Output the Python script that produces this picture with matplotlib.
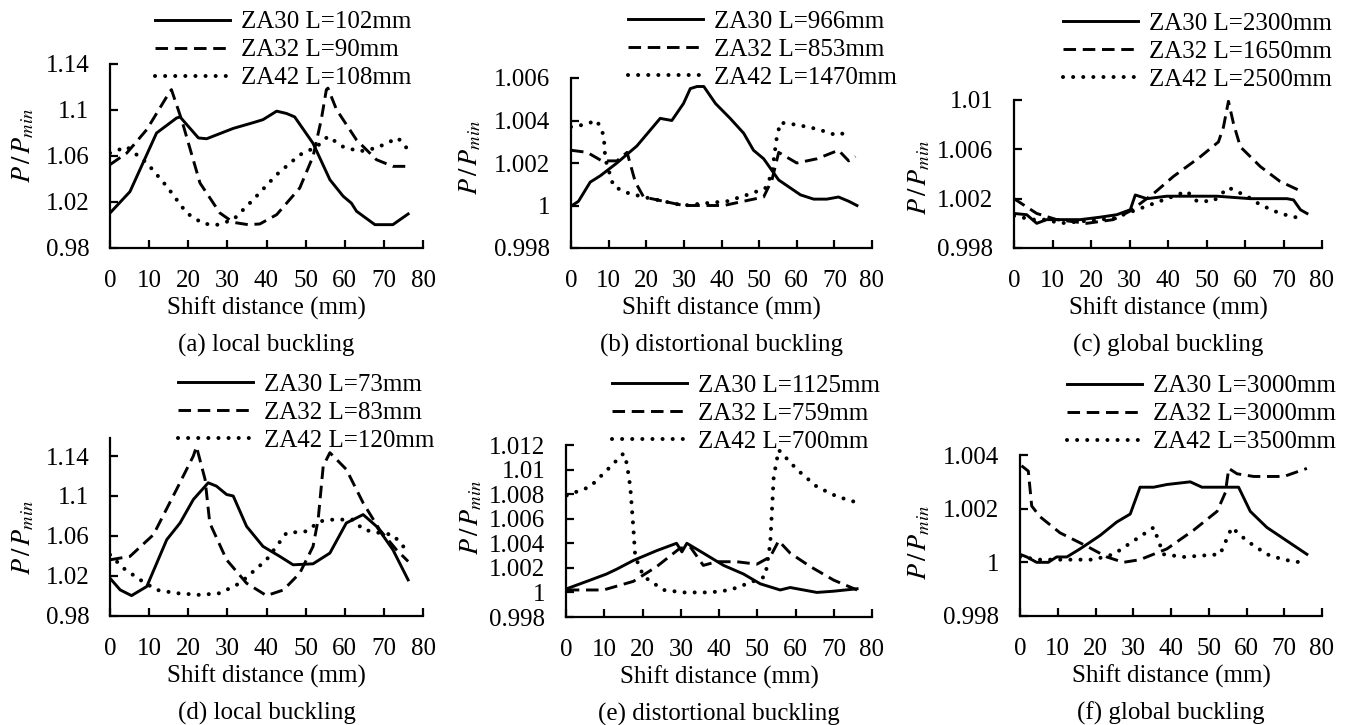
import matplotlib
matplotlib.use("Agg")
import matplotlib.pyplot as plt
from matplotlib.ticker import FuncFormatter

plt.rcParams["font.family"] = ["Liberation Serif", "DejaVu Serif"]
plt.rcParams["mathtext.fontset"] = "stix"

# ---- data (shift distance in mm, P/Pmin) ----
# (a) local buckling
a30_x = [0, 5.1, 11.9, 17, 17.9, 22.6, 24.7, 31.5, 36.6, 39.1, 42.6, 45.1, 47.2, 51.9, 56.2, 59.6, 61.7, 63, 67.7, 72.3, 76.2]
a30_y = [1.0104, 1.029, 1.080, 1.093, 1.094, 1.0757, 1.075, 1.084, 1.089, 1.0916, 1.099, 1.097, 1.094, 1.071, 1.0394, 1.025, 1.019, 1.012, 1.0003, 1.0003, 1.0096]
a32_x = [0, 4.3, 9.4, 15.3, 15.7, 18.3, 23, 28.1, 31.5, 35.3, 38.3, 42.6, 48.5, 51.9, 54, 55.3, 55.7, 57.9, 63, 68.1, 72.3, 76.2]
a32_y = [1.0525, 1.0626, 1.083, 1.116, 1.1177, 1.0916, 1.0365, 1.0104, 1.0023, 1.0003, 1.0009, 1.009, 1.0322, 1.0597, 1.0916, 1.1177, 1.119, 1.1003, 1.074, 1.0568, 1.051, 1.051]
a42_x = [0, 4.3, 9.4, 14.5, 19.6, 23.8, 27.2, 31.5, 36.6, 42.6, 48.5, 52.8, 55.7, 59.6, 63.8, 68.1, 73.6, 76.2]
a42_y = [1.0626, 1.068, 1.054, 1.0336, 1.0104, 1.0012, 1.0, 1.0046, 1.022, 1.0438, 1.061, 1.068, 1.077, 1.068, 1.064, 1.067, 1.0757, 1.0655]

# (b) distortional buckling
b30_x = [0.3, 2, 5.1, 7.8, 12.2, 17.5, 23.7, 26.8, 29.9, 31.7, 33.5, 35.3, 38.4, 42.3, 45.9, 48.5, 51.2, 55.2, 61, 64.5, 68, 71.1, 73.8, 76]
b30_y = [1.0, 1.0002, 1.0011, 1.0014, 1.002, 1.0028, 1.0041, 1.0040, 1.0048, 1.0055, 1.0056, 1.0056, 1.0048, 1.0041, 1.0034, 1.0026, 1.0022, 1.0012, 1.0005, 1.0003, 1.0003, 1.0004, 1.0002, 1.0]
b32_x = [0, 4.3, 8.2, 12.2, 14.9, 17.1, 19.3, 24.6, 29.9, 35.3, 40.6, 45.9, 51.2, 53.4, 55.2, 60, 65.4, 71.1, 73.8, 75.6]
b32_y = [1.0026, 1.0025, 1.0021, 1.0021, 1.0025, 1.0011, 1.0004, 1.0002, 1.0, 1.0, 1.0, 1.0002, 1.0004, 1.0012, 1.0025, 1.002, 1.0022, 1.0026, 1.0021, 1.0023]
b42_x = [0, 3.4, 6.9, 8.7, 9.1, 11.3, 14.9, 19.3, 24.6, 29.9, 35.3, 41.5, 46.8, 51.6, 53.4, 54.6, 55.6, 60, 65.4, 70.7, 74.2]
b42_y = [1.0037, 1.0038, 1.004, 1.0033, 1.0022, 1.0009, 1.0006, 1.0004, 1.0002, 1.0, 1.0001, 1.0002, 1.0005, 1.0008, 1.0015, 1.0031, 1.0039, 1.0038, 1.0036, 1.0033, 1.0035]

# (c) global buckling
c30_x = [0, 3.3, 5.9, 8.5, 11.9, 17.2, 22.4, 26.7, 30.2, 31.5, 34.5, 39.7, 44.9, 52.7, 61.4, 70.9, 72.6, 74.4, 76.1]
c30_y = [1.0008, 1.0007, 1.0, 1.0003, 1.0003, 1.0003, 1.0005, 1.0007, 1.0011, 1.0023, 1.002, 1.0022, 1.0022, 1.0022, 1.002, 1.002, 1.0019, 1.0011, 1.0008]
c32_x = [0, 5.9, 11.1, 18.9, 25.8, 30.2, 36.2, 41.4, 48.4, 53.1, 54.4, 55.7, 57, 58.8, 64, 69.1, 73.9]
c32_y = [1.002, 1.0008, 1.0003, 1.0, 1.0003, 1.001, 1.0024, 1.0038, 1.0054, 1.0066, 1.0078, 1.0099, 1.0081, 1.0062, 1.0046, 1.0034, 1.0027]
c42_x = [0, 5, 8.5, 11.9, 18.9, 25.8, 31, 36.2, 39.7, 44.9, 47.5, 51.8, 55.7, 60.5, 64, 69.1, 74.4]
c42_y = [1.0006, 1.0003, 1.0003, 1.0, 1.0002, 1.0004, 1.001, 1.0016, 1.002, 1.0026, 1.0018, 1.0018, 1.0029, 1.0022, 1.0015, 1.0008, 1.0004]

# (d) local buckling
d30_x = [0, 2.6, 5.5, 9.4, 14.5, 17.9, 21.3, 25.1, 27.2, 29.8, 31.5, 34.9, 39.1, 43.4, 46.8, 51.9, 56.2, 60.4, 64.7, 68.1, 72.3, 76.2]
d30_y = [1.0178, 1.0061, 1.0004, 1.0095, 1.0563, 1.073, 1.0965, 1.1132, 1.1099, 1.1015, 1.1, 1.0697, 1.0496, 1.0396, 1.0312, 1.0322, 1.0429, 1.073, 1.0814, 1.0697, 1.0463, 1.0161]
d32_x = [0, 5.1, 11.1, 17, 21.3, 22.1, 24.3, 25.5, 29.8, 34.9, 40, 44.3, 48.5, 51.9, 53.2, 54.5, 56.2, 60.4, 64.7, 68.9, 73.2, 76.2]
d32_y = [1.0362, 1.0396, 1.0613, 1.1065, 1.14, 1.1494, 1.1166, 1.073, 1.0362, 1.0128, 1.0004, 1.006, 1.0228, 1.0496, 1.0764, 1.13, 1.1433, 1.1266, 1.0931, 1.0664, 1.0463, 1.0346]
d42_x = [0, 3.4, 7.7, 11.9, 17, 23, 28.1, 33.2, 40, 45.1, 50.2, 53.6, 57, 62.1, 64.7, 68.9, 72.3, 75.7]
d42_y = [1.0413, 1.0279, 1.0162, 1.0061, 1.0028, 1.0011, 1.0028, 1.0128, 1.0362, 1.063, 1.0647, 1.0747, 1.0764, 1.0764, 1.0664, 1.063, 1.0613, 1.0463]

# (e) distortional buckling
e30_x = [0.2, 6.3, 10.6, 13.3, 17.6, 23.7, 28.9, 30.3, 31.6, 35.9, 41.2, 46.4, 50.8, 56, 58.6, 62.1, 65.6, 70, 76.1]
e30_y = [1.0003, 1.001, 1.0015, 1.0019, 1.0026, 1.0034, 1.004, 1.0033, 1.004, 1.0032, 1.0022, 1.0015, 1.0007, 1.0002, 1.0004, 1.0002, 1.0, 1.0001, 1.0003]
e32_x = [0.2, 9.8, 17.6, 23.7, 29.8, 32.5, 35.9, 39.4, 44.6, 49.9, 53.4, 55.6, 58.6, 63.9, 70, 76.1]
e32_y = [1.0002, 1.0002, 1.0009, 1.0021, 1.0036, 1.0037, 1.0022, 1.0025, 1.0025, 1.0023, 1.0029, 1.0042, 1.0032, 1.0021, 1.001, 1.0002]
e42_x = [0.2, 6.3, 11.5, 15, 15.9, 16.8, 17.6, 18.1, 20.3, 25.5, 30.7, 37.7, 42.9, 47.3, 52.1, 53.4, 54.3, 55.6, 60.4, 65.6, 70.9, 75.2]
e42_y = [1.0079, 1.0086, 1.0102, 1.0113, 1.0105, 1.0086, 1.0053, 1.0029, 1.0013, 1.0002, 1.0, 1.0, 1.0002, 1.0007, 1.0013, 1.004, 1.0094, 1.0116, 1.01, 1.0086, 1.0078, 1.0074]

# (f) global buckling
f30_x = [0, 1.8, 4.4, 7.5, 9.7, 12.4, 15.9, 21.2, 25.6, 29.2, 31.8, 35.4, 38.9, 45.1, 48.2, 53, 57.9, 61, 65.4, 70.7, 76]
f30_y = [1.0003, 1.0002, 1.0, 1.0, 1.0002, 1.0002, 1.0005, 1.001, 1.0015, 1.0018, 1.0028, 1.0028, 1.0029, 1.003, 1.0028, 1.0028, 1.0028, 1.0019, 1.0013, 1.0008, 1.0003]
f32_x = [0.4, 2.2, 3.1, 5.3, 10.6, 17.7, 23, 27.4, 31.8, 38.9, 46, 52.2, 54.4, 55.3, 57.5, 61.9, 69.9, 76]
f32_y = [1.0036, 1.0034, 1.0021, 1.0017, 1.0011, 1.0006, 1.0002, 1.0, 1.0001, 1.0005, 1.0012, 1.0019, 1.0026, 1.0035, 1.0033, 1.0032, 1.0032, 1.0035]
f42_x = [0, 5.3, 12.4, 19.5, 24.8, 30.1, 35.4, 38, 43.3, 53, 56.1, 60.1, 65.4, 69.8, 74.3]
f42_y = [1.0002, 1.0001, 1.0001, 1.0001, 1.0003, 1.0008, 1.0013, 1.0003, 1.0002, 1.0003, 1.0013, 1.0008, 1.0003, 1.0001, 1.0]

panels = [
    # caption, series, labels, ylim, yticks, axes box px (l, r, top, bottom), legend px, ylabel px
    ("(a) local buckling", [(a30_x, a30_y), (a32_x, a32_y), (a42_x, a42_y)],
     ["ZA30 L=102mm", "ZA32 L=90mm", "ZA42 L=108mm"],
     (0.98, 1.14), [0.98, 1.02, 1.06, 1.1, 1.14], (110, 423, 64, 248), (155, 11), (23, 145)),
    ("(b) distortional buckling", [(b30_x, b30_y), (b32_x, b32_y), (b42_x, b42_y)],
     ["ZA30 L=966mm", "ZA32 L=853mm", "ZA42 L=1470mm"],
     (0.998, 1.006), [0.998, 1.0, 1.002, 1.004, 1.006], (571, 872, 78, 248), (628, 10), (470, 157)),
    ("(c) global buckling", [(c30_x, c30_y), (c32_x, c32_y), (c42_x, c42_y)],
     ["ZA30 L=2300mm", "ZA32 L=1650mm", "ZA42 L=2500mm"],
     (0.998, 1.01), [0.998, 1.002, 1.006, 1.01], (1014, 1322, 100, 248), (1063, 12), (919, 177)),
    ("(d) local buckling", [(d30_x, d30_y), (d32_x, d32_y), (d42_x, d42_y)],
     ["ZA30 L=73mm", "ZA32 L=83mm", "ZA42 L=120mm"],
     (0.98, 1.158), [0.98, 1.02, 1.06, 1.1, 1.14], (110, 423, 438, 616), (178, 373), (23, 537)),
    ("(e) distortional buckling", [(e30_x, e30_y), (e32_x, e32_y), (e42_x, e42_y)],
     ["ZA30 L=1125mm", "ZA32 L=759mm", "ZA42 L=700mm"],
     (0.998, 1.012), [0.998, 1.0, 1.002, 1.004, 1.006, 1.008, 1.01, 1.012], (566, 872, 445, 617), (612, 374), (471, 517)),
    ("(f) global buckling", [(f30_x, f30_y), (f32_x, f32_y), (f42_x, f42_y)],
     ["ZA30 L=3000mm", "ZA32 L=3000mm", "ZA42 L=3500mm"],
     (0.998, 1.004), [0.998, 1.0, 1.002, 1.004], (1020, 1322, 455, 616), (1067, 375), (919, 542)),
]

W, H = 1349, 725
fig = plt.figure(figsize=(W / 100, H / 100), dpi=100)

styles = [
    dict(linestyle="-", linewidth=2.1, color="black"),
    dict(linestyle=(0, (4.3, 2.3)), linewidth=2.1, color="black"),
    dict(linestyle=(0, (0.01, 2.5)), linewidth=2.9, color="black", dash_capstyle="round"),
]

fmt = FuncFormatter(lambda v, p: f"{v:.3f}".rstrip("0").rstrip("."))

for caption, series, labels, ylim, yticks, box, leg, ylab in panels:
    l, r, t, b = box
    ax = fig.add_axes([l / W, 1 - b / H, (r - l) / W, (b - t) / H])
    for (xs, ys), lab, st in zip(series, labels, styles):
        ax.plot(xs, ys, label=lab, **st)
    ax.set_xlim(0, 80)
    ax.set_ylim(*ylim)
    ax.set_xticks(range(0, 81, 10))
    ax.set_yticks(yticks)
    ax.yaxis.set_major_formatter(fmt)
    for s in ["top", "right"]:
        ax.spines[s].set_visible(False)
    for s in ["left", "bottom"]:
        ax.spines[s].set_linewidth(1.6)
    ax.tick_params(direction="in", length=6, width=1.6, labelsize=18)
    ax.tick_params(axis="y", pad=15)
    ax.tick_params(axis="x", pad=15.5)
    ax.patch.set_alpha(0)

    ax.legend(loc="upper left", bbox_to_anchor=(leg[0] / W, 1 - leg[1] / H),
              bbox_transform=fig.transFigure, frameon=False, fontsize=18,
              borderaxespad=0, borderpad=0, handlelength=3.0, handletextpad=0.45,
              labelspacing=0.22)

    cx = (l + r) / 2
    fig.text(cx / W, 1 - (b + 60) / H, "Shift distance (mm)", ha="center", va="center", fontsize=18)
    fig.text(cx / W, 1 - (b + 97) / H, caption, ha="center", va="center", fontsize=18)
    fig.text(ylab[0] / W, 1 - ylab[1] / H, r"$P\,/\,P_{min}$", rotation=90,
             ha="center", va="center", fontsize=19)

fig.savefig("out.png", dpi=100)
